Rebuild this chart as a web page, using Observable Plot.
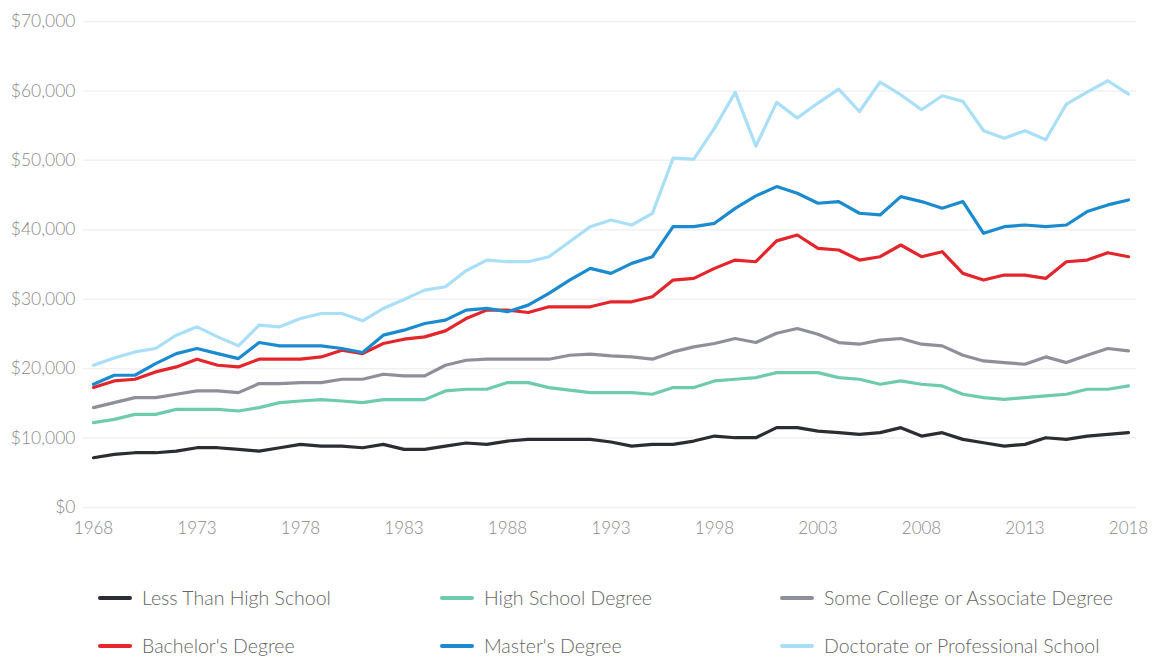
<!DOCTYPE html>
<html>
<head>
<meta charset="utf-8">
<script src="https://cdn.jsdelivr.net/npm/d3@7"></script>
<script src="https://cdn.jsdelivr.net/npm/@observablehq/plot@0.6"></script>
<style>
  html, body { margin: 0; padding: 0; background: #fff; }
  body { width: 1152px; height: 658px; overflow: hidden; font-family: Lato, "Open Sans", sans-serif; font-weight: 300; }
  #legend { position: relative; height: 108px; }
  .item { position: absolute; display: flex; align-items: center; font-size: 19.5px; color: #666; font-weight: 300; white-space: nowrap; }
  .sw { width: 34px; height: 4px; border-radius: 2px; margin-right: 10px; }
</style>
</head>
<body>
<div id="chart"></div>
<div id="legend"></div>
<script>
const years = d3.range(1968, 2019);
const seriesNames = [
  "Less Than High School",
  "High School Degree",
  "Some College or Associate Degree",
  "Bachelor's Degree",
  "Master's Degree",
  "Doctorate or Professional School"
];
const seriesColors = ["#2b2d33", "#6fcbad", "#8e8f99", "#e3262c", "#1a8bcf", "#a9dff7"];
const lessThanHS = [7170,7650,7890,7890,8120,8610,8610,8370,8120,8610,9090,8850,8850,8610,9090,8370,8370,8850,9290,9090,9570,9810,9810,9810,9810,9430,8850,9090,9090,9570,10290,10050,10050,11500,11500,11010,10780,10530,10780,11500,10290,10780,9810,9330,8850,9090,10050,9810,10290,10530,10780];
const highSchool = [12220,12700,13420,13420,14140,14140,14140,13900,14380,15100,15340,15540,15340,15100,15540,15540,15540,16790,17030,17030,17990,17990,17270,16900,16550,16550,16550,16310,17270,17270,18230,18470,18710,19430,19430,19430,18710,18470,17750,18230,17750,17510,16310,15830,15580,15830,16070,16310,17030,17030,17510];
const someCollege = [14380,15100,15830,15830,16310,16790,16790,16550,17850,17850,17990,17990,18470,18470,19190,18950,18950,20490,21210,21360,21360,21360,21360,21930,22080,21830,21690,21360,22410,23130,23620,24340,23760,25100,25780,24960,23760,23520,24100,24340,23520,23280,21930,21110,20870,20630,21690,20870,21930,22900,22560];
const bachelors = [17270,18230,18470,19530,20250,21360,20490,20250,21360,21360,21360,21690,22650,22170,23620,24240,24580,25440,27220,28430,28430,28090,28910,28910,28910,29630,29630,30350,32760,33000,34440,35640,35400,38400,39250,37330,37090,35640,36120,37810,36120,36840,33720,32760,33480,33480,33000,35400,35640,36700,36120];
const masters = [17750,19050,19050,20730,22170,22900,22170,21450,23760,23280,23280,23280,22900,22320,24820,25540,26500,26980,28430,28670,28190,29150,30830,32760,34440,33720,35160,36120,40450,40450,40930,43090,44880,46220,45260,43820,44060,42380,42140,44780,44060,43100,44060,39490,40450,40690,40450,40690,42620,43580,44300];
const doctorate = [20490,21540,22410,22900,24820,26020,24580,23280,26260,26020,27220,27940,27940,26890,28670,29970,31310,31790,34100,35640,35400,35400,36120,38280,40450,41410,40690,42370,50310,50170,54640,59790,52050,58350,56090,58250,60270,57040,61280,59450,57290,59310,58490,54260,53200,54260,52960,58110,59840,61470,59550];
const yTicks = [0, 10000, 20000, 30000, 40000, 50000, 60000, 70000];
const xTicks = [1968, 1973, 1978, 1983, 1988, 1993, 1998, 2003, 2008, 2013, 2018];

const allSeries = [lessThanHS, highSchool, someCollege, bachelors, masters, doctorate];
const data = [];
allSeries.forEach((vals, i) => {
  vals.forEach((v, j) => data.push({series: seriesNames[i], year: years[j], value: v}));
});

const fmtY = d => "$" + d3.format(",")(d);
const fmtX = d => String(d);

const chart = Plot.plot({
  width: 1152,
  height: 550,
  marginLeft: 93,
  marginRight: 24,
  marginTop: 21,
  marginBottom: 43,
  style: {fontFamily: "Lato, 'Open Sans', sans-serif", fontSize: "17px", color: "#8a8a8a", fontWeight: 300},
  x: {domain: [1968, 2018], label: null},
  y: {domain: [0, 70000], label: null},
  color: {domain: seriesNames, range: seriesColors},
  marks: [
    Plot.ruleY(yTicks, {stroke: "#f1f1f1", strokeWidth: 1.5, insetLeft: -10, insetRight: -8}),
    Plot.axisY({ticks: yTicks, tickFormat: fmtY, tickSize: 0, tickPadding: 18, fontSize: 17.5, fill: "#8a8a8a", label: null}),
    Plot.axisX({ticks: xTicks, tickFormat: fmtX, tickSize: 0, tickPadding: 14, fontSize: 17, fill: "#8a8a8a", label: null}),
    Plot.line(data, {x: "year", y: "value", z: "series", stroke: "series", strokeWidth: 3.2, strokeLinejoin: "round", strokeLinecap: "round"})
  ]
});
document.getElementById("chart").appendChild(chart);

const legend = document.getElementById("legend");
const cols = [98, 440, 780];
const rows = [49, 97];
seriesNames.forEach((name, i) => {
  const el = document.createElement("div");
  el.className = "item";
  el.style.left = cols[i % 3] + "px";
  el.style.top = (rows[Math.floor(i / 3)] - 13) + "px";
  const sw = document.createElement("span");
  sw.className = "sw";
  sw.style.background = seriesColors[i];
  const tx = document.createElement("span");
  tx.textContent = name;
  el.appendChild(sw);
  el.appendChild(tx);
  legend.appendChild(el);
});
</script>
</body>
</html>
